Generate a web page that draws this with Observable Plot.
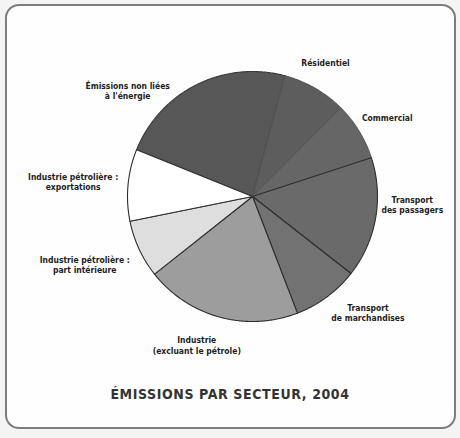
<!DOCTYPE html>
<html><head><meta charset="utf-8">
<script src="https://cdn.jsdelivr.net/npm/d3@7"></script>
<script src="https://cdn.jsdelivr.net/npm/@observablehq/plot@0.6"></script>
<style>
html,body{margin:0;padding:0;background:#f4f4f2;}
#page{position:relative;width:460px;height:438px;overflow:hidden;background:#f4f4f2;}
#frame{position:absolute;left:5px;top:4px;width:447px;height:421px;border:2px solid #7d7d7d;border-radius:14px;background:#fefefe;}
#chart{position:absolute;left:0;top:0;}
#title{position:absolute;left:0;width:460px;top:386px;text-align:center;font-family:"DejaVu Sans Condensed","Liberation Sans Narrow",sans-serif;font-weight:bold;font-size:14px;color:#333;letter-spacing:0.6px;}
</style></head>
<body><div id="page"><div id="frame"></div><div id="chart"></div><div id="title">ÉMISSIONS PAR SECTEUR, 2004</div></div>
<script>
// ---- data ----
const sectors = [
  "Émissions non liées\nà l'énergie",
  "Résidentiel",
  "Commercial",
  "Transport\ndes passagers",
  "Transport\nde marchandises",
  "Industrie\n(excluant le pétrole)",
  "Industrie pétrolière :\npart intérieure",
  "Industrie pétrolière :\nexportations"
];
const shares = [23.1, 8.3, 7.5, 15.6, 8.6, 20.2, 7.5, 9.3]; // % of emissions
const fills = ["#575757", "#5d5d5d", "#666666", "#6a6a6a", "#727272", "#9d9d9d", "#dedede", "#ffffff"];
const strokes = ["#3a3a3a", "#555555", "#5c5c5c", "#2e2e2e", "#2e2e2e", "#2e2e2e", "#2e2e2e", "#2e2e2e"];

// ---- layout (label placement around the pie) ----
const startDeg = -68;
const labelAngleNudge = [-23.2, -1.4, 1.2, -7.1, -8.3, 5.3, 2.7, -0.5];
const labelDist = [1.31, 1.22, 1.25, 1.28, 1.31, 1.27, 1.45, 1.44];

const arcs = d3.pie().sort(null).value(d => d.v).startAngle(startDeg * Math.PI / 180)
  .endAngle((startDeg + 360) * Math.PI / 180)(shares.map((v, i) => ({v, i})));

const features = arcs.map(a => {
  const n = Math.max(4, Math.ceil((a.endAngle - a.startAngle) / 0.01));
  const ring = [[0, 0]];
  for (let k = 0; k <= n; ++k) {
    const t = a.startAngle + (a.endAngle - a.startAngle) * k / n;
    ring.push([Math.sin(t), Math.cos(t)]);
  }
  ring.push([0, 0]);
  return {type: "Feature", properties: {i: a.data.i}, geometry: {type: "Polygon", coordinates: [ring]}};
});

const labels = arcs.map(a => {
  const i = a.data.i;
  const mid = (a.startAngle + a.endAngle) / 2 + labelAngleNudge[i] * Math.PI / 180;
  return {x: Math.sin(mid) * labelDist[i], y: Math.cos(mid) * labelDist[i], text: sectors[i]};
});

const chart = Plot.plot({
  width: 460, height: 390,
  marginLeft: 127, marginRight: 83, marginTop: 71, marginBottom: 69,
  projection: {type: "reflect-y", clip: false, domain: {type: "MultiPoint", coordinates: [[-1, -1], [1, 1]]}},
  style: {background: "transparent"},
  marks: [
    Plot.geo(features, {fill: d => fills[d.properties.i], stroke: d => strokes[d.properties.i], strokeWidth: 1.1, clip: false}),
    Plot.text(labels, {x: "x", y: "y", text: "text", fontSize: 8.5, fontWeight: "bold", clip: false,
      fontFamily: "'DejaVu Sans Condensed','Liberation Sans Narrow',sans-serif", fill: "#1e1e1e", lineHeight: 1.2})
  ]
});
document.getElementById("chart").appendChild(chart);
</script></body></html>
